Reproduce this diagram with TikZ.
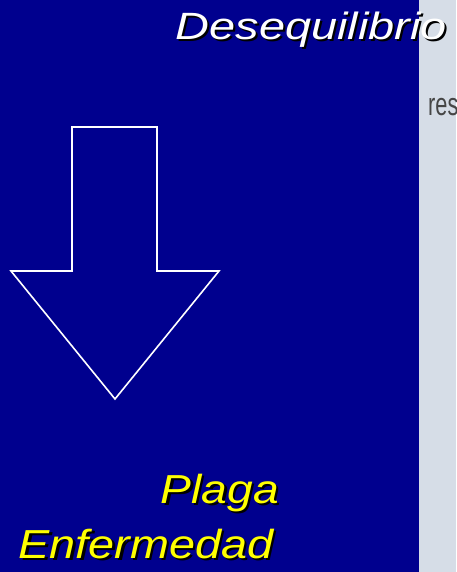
\documentclass[tikz,border=0pt]{standalone}
\usepackage{fontspec}
\setmainfont{Liberation Sans}
\definecolor{bgblue}{RGB}{0,0,142}
\definecolor{panelgrey}{RGB}{214,221,231}
\definecolor{txtyellow}{RGB}{255,255,0}
\definecolor{resgrey}{RGB}{70,70,70}
\begin{document}
\begin{tikzpicture}[x=1pt,y=-1pt,
  lbl/.style={inner sep=0pt, anchor=base west, font=\itshape},
  shadowlbl/.style={lbl, text=black},
  arrowline/.style={draw=white, line width=1.6pt, line join=miter}
]
\useasboundingbox (0,0) rectangle (456,572);
\begin{scope}
\clip (0,0) rectangle (456,572);
\fill[bgblue] (0,0) rectangle (419,572);
\fill[panelgrey] (419,0) rectangle (456,572);
\node[inner sep=0pt, anchor=base west, text=resgrey, font=\fontsize{32}{32}\selectfont] (res) at (428,116) {\scalebox{0.68}[1]{res}};
% arrow
\draw[arrowline] (72,127) -- (157,127) -- (157,271) -- (219,271) -- (115,399) -- (11,271) -- (72,271) -- cycle;
% title
\node[shadowlbl, font=\itshape\fontsize{38}{40}\selectfont] (titleshadow) at (177.5,41.8) {\scalebox{1.235}[1]{Desequilibrio}};
\node[lbl, text=white, font=\itshape\fontsize{38}{40}\selectfont] (title) at (175.5,39.5) {\scalebox{1.235}[1]{Desequilibrio}};
% plaga
\node[shadowlbl, font=\itshape\fontsize{40.5}{44}\selectfont] (plagashadow) at (162.8,505.8) {\scalebox{1.14}[1]{Plaga}};
\node[lbl, text=txtyellow, font=\itshape\fontsize{40.5}{44}\selectfont] (plaga) at (160.5,503.3) {\scalebox{1.14}[1]{Plaga}};
% enfermedad
\node[shadowlbl, font=\itshape\fontsize{40.5}{44}\selectfont] (enfshadow) at (20.8,560.8) {\scalebox{1.155}[1]{Enfermedad}};
\node[lbl, text=txtyellow, font=\itshape\fontsize{40.5}{44}\selectfont] (enf) at (18.5,558.3) {\scalebox{1.155}[1]{Enfermedad}};
\end{scope}
\end{tikzpicture}
\end{document}
